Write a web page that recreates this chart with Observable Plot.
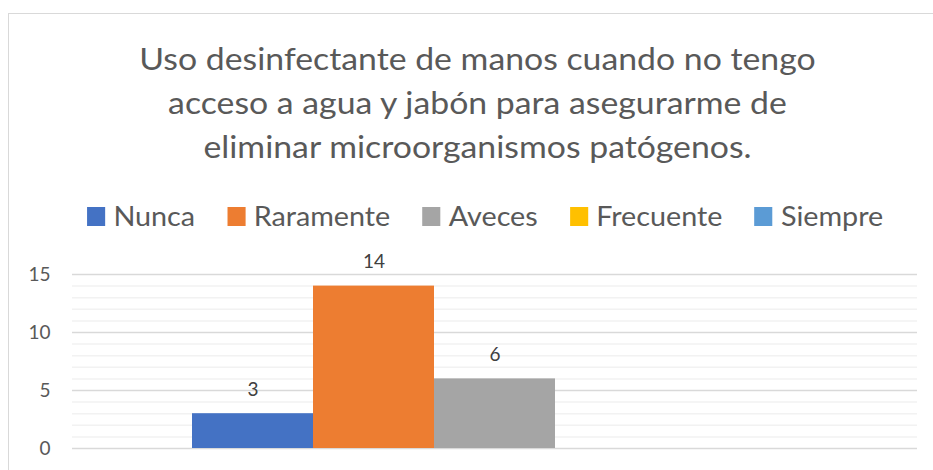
<!DOCTYPE html>
<html>
<head>
<meta charset="utf-8">
<script src="https://cdn.jsdelivr.net/npm/d3@7"></script>
<script src="https://cdn.jsdelivr.net/npm/@observablehq/plot@0.6"></script>
<style>
  html, body { margin: 0; padding: 0; background: #fff; }
  body { width: 933px; height: 470px; position: relative; overflow: hidden; font-family: Lato, "Open Sans", sans-serif; }
  #frame { position: absolute; left: 8px; top: 13px; width: 960px; height: 500px; border: 1.5px solid #d9d9d9; box-sizing: border-box; }
  #title { position: absolute; left: 0; top: 36px; width: 955px; text-align: center; font-size: 31px; line-height: 44px; color: #595959; transform: scaleX(1.09); transform-origin: 477.5px 0; }
  #legend { position: absolute; left: 0; top: 200px; width: 970px; display: flex; justify-content: center; gap: 30px; font-size: 27px; color: #595959; line-height: 32px; transform: scaleX(1.064); transform-origin: 485px 0; }
  .item { display: flex; align-items: center; gap: 8px; }
  .sw { width: 17px; height: 19px; display: inline-block; }
  #chart { position: absolute; left: 0; top: 240px; }
</style>
</head>
<body>
<div id="frame"></div>
<div id="title"></div>
<div id="legend"></div>
<div id="chart"></div>
<script>
const titleLines = ["Uso desinfectante de manos cuando no tengo", "acceso a agua y jabón para asegurarme de", "eliminar microorganismos patógenos."];
const series = ["Nunca", "Raramente", "Aveces", "Frecuente", "Siempre"];
const values = [3, 14, 6, null, null];
const colors = ["#4472C4", "#ED7D31", "#A5A5A5", "#FFC000", "#5B9BD5"];
const yTicks = [0, 5, 10, 15];

document.getElementById("title").innerHTML = titleLines.join("<br>");
const legend = document.getElementById("legend");
series.forEach((s, i) => {
  const it = document.createElement("div");
  it.className = "item";
  it.innerHTML = `<span class="sw" style="background:${colors[i]}"></span><span>${s}</span>`;
  legend.appendChild(it);
});

const data = series.map((s, i) => ({serie: s, value: values[i]}));
const present = data.filter(d => d.value != null);
const minor = d3.range(0, 16).filter(v => v % 5 !== 0);

const chart = Plot.plot({
  width: 933,
  height: 230,
  marginLeft: 72,
  marginRight: 16,
  marginTop: 34,
  marginBottom: 22,
  style: { fontFamily: "Lato, 'Open Sans', sans-serif", background: "transparent" },
  x: { domain: series, paddingInner: 0, paddingOuter: 0.99, axis: null },
  y: { domain: [0, 15], ticks: yTicks, tickSize: 0, tickPadding: 22, label: null },
  color: { domain: series, range: colors },
  marks: [
    Plot.ruleY(minor, { stroke: "#f2f2f2", strokeWidth: 1.5 }),
    Plot.ruleY(yTicks, { stroke: "#d9d9d9", strokeWidth: 1.5 }),
    Plot.barY(present, { x: "serie", y: "value", fill: "serie", inset: 0 }),
    Plot.text(present, { x: "serie", y: "value", text: d => String(d.value), dy: -24, fontSize: 19, fill: "#404040" }),
    Plot.axisY({ ticks: yTicks, tickSize: 0, tickPadding: 22, fontSize: 19, color: "#595959", label: null })
  ]
});
document.getElementById("chart").appendChild(chart);
</script>
</body>
</html>
